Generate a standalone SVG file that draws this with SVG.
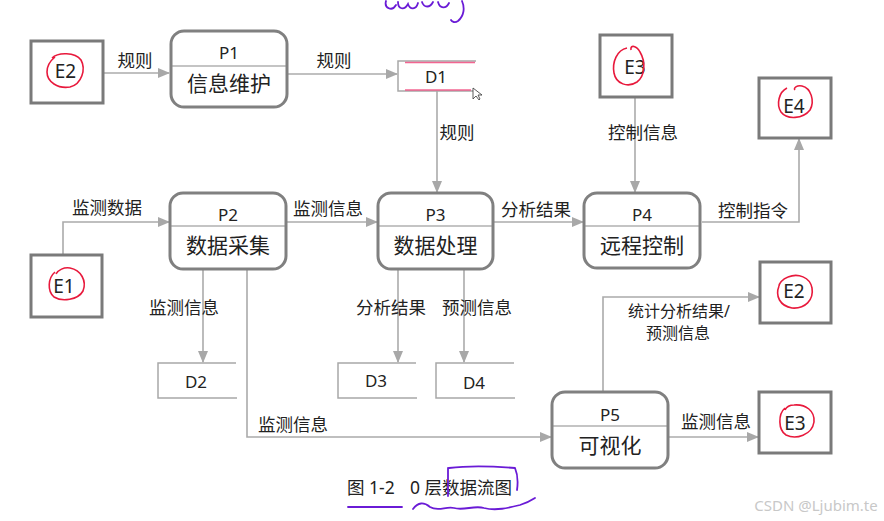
<svg xmlns="http://www.w3.org/2000/svg" width="884" height="521" viewBox="0 0 884 521">
<style>
text{font-family:"Noto Sans","Noto Sans CJK SC",sans-serif;fill:#222;text-anchor:middle;dominant-baseline:central}
.ext{fill:#fff;stroke:#7a7a7a;stroke-width:3}
.proc{fill:#fff;stroke:#808080;stroke-width:3}
.div{stroke:#8a8a8a;stroke-width:1.2}
.ds{fill:none;stroke:#a8a8a8;stroke-width:1.5}
.flow{fill:none;stroke:#ababab;stroke-width:1.6}
.et{font-size:19px}
.pt{font-size:17px}
.pn{font-size:21px}
.dt{font-size:17px}
.lb{font-size:17.5px}
.red{fill:none;stroke:#e8193c;stroke-width:1.6}
.pur{fill:none;stroke:#6a1bd6;stroke-width:1.8;stroke-linecap:round}
</style>
<defs>
<marker id="ah" markerWidth="12" markerHeight="10" refX="11" refY="5" orient="auto" markerUnits="userSpaceOnUse">
<path d="M0,0 L12,5 L0,10 z" fill="#a8a8a8"/>
</marker>
</defs>
<rect width="884" height="521" fill="#fff"/>

<g id="connectors">
<path class="flow" d="M103,73 H169" marker-end="url(#ah)"/>
<path class="flow" d="M288,74 H397" marker-end="url(#ah)"/>
<path class="flow" d="M437,91 V192" marker-end="url(#ah)"/>
<path class="flow" d="M635,97 V192" marker-end="url(#ah)"/>
<path class="flow" d="M63,255 V222 H169" marker-end="url(#ah)"/>
<path class="flow" d="M287,222 H377" marker-end="url(#ah)"/>
<path class="flow" d="M494,222 H583" marker-end="url(#ah)"/>
<path class="flow" d="M702,222 H799 V139" marker-end="url(#ah)"/>
<path class="flow" d="M203,270 V362" marker-end="url(#ah)"/>
<path class="flow" d="M398,270 V362" marker-end="url(#ah)"/>
<path class="flow" d="M464,270 V362" marker-end="url(#ah)"/>
<path class="flow" d="M247,270 V437 H551" marker-end="url(#ah)"/>
<path class="flow" d="M603,391 V297 H759" marker-end="url(#ah)"/>
<path class="flow" d="M669,437 H758" marker-end="url(#ah)"/>
<text class="lb" x="135" y="60">规则</text>
<text class="lb" x="334" y="60">规则</text>
<text class="lb" x="457" y="132">规则</text>
<text class="lb" x="643" y="132">控制信息</text>
<text class="lb" x="107" y="207">监测数据</text>
<text class="lb" x="328" y="208">监测信息</text>
<text class="lb" x="536" y="209">分析结果</text>
<text class="lb" x="753" y="210">控制指令</text>
<text class="lb" x="184" y="307">监测信息</text>
<text class="lb" x="391" y="307">分析结果</text>
<text class="lb" x="477" y="307">预测信息</text>
<text class="lb" x="679" y="311" style="font-size:16px">统计分析结果/</text>
<text class="lb" x="678" y="333" style="font-size:16px">预测信息</text>
<text class="lb" x="716" y="421">监测信息</text>
<text class="lb" x="293" y="424">监测信息</text>
</g>

<g id="E2a"><rect class="ext" x="31" y="41" width="72" height="62"/><text class="et" x="65.5" y="71">E2</text></g>
<g id="E3a"><rect class="ext" x="600" y="35" width="72" height="62"/><text class="et" x="635" y="67">E3</text></g>
<g id="E4"><rect class="ext" x="759" y="78" width="72" height="60"/><text class="et" x="794" y="106">E4</text></g>
<g id="E1"><rect class="ext" x="31" y="255" width="71" height="62"/><text class="et" x="64" y="286">E1</text></g>
<g id="E2b"><rect class="ext" x="760" y="262" width="71" height="61"/><text class="et" x="794" y="291">E2</text></g>
<g id="E3b"><rect class="ext" x="759" y="392" width="72" height="61"/><text class="et" x="795" y="423">E3</text></g>

<g id="P1"><rect class="proc" x="171" y="31" width="116" height="76" rx="13"/><line class="div" x1="172" y1="66" x2="286" y2="66"/><text class="pt" x="229" y="52">P1</text><text class="pn" x="229" y="83">信息维护</text></g>
<g id="P2"><rect class="proc" x="170" y="193" width="116" height="76" rx="13"/><line class="div" x1="171" y1="226" x2="285" y2="226"/><text class="pt" x="228" y="214">P2</text><text class="pn" x="228" y="245">数据采集</text></g>
<g id="P3"><rect class="proc" x="378" y="193" width="115" height="76" rx="13"/><line class="div" x1="379" y1="226" x2="492" y2="226"/><text class="pt" x="435.5" y="214">P3</text><text class="pn" x="435.5" y="245">数据处理</text></g>
<g id="P4"><rect class="proc" x="584" y="193" width="116" height="75" rx="13"/><line class="div" x1="585" y1="226" x2="699" y2="226"/><text class="pt" x="642" y="214">P4</text><text class="pn" x="642" y="245">远程控制</text></g>
<g id="P5"><rect class="proc" x="552" y="392" width="116" height="76" rx="13"/><line class="div" x1="553" y1="426" x2="667" y2="426"/><text class="pt" x="610" y="414">P5</text><text class="pn" x="610" y="445">可视化</text></g>

<g id="D1"><path class="ds" d="M476,61 H398 V91 H474"/><text class="dt" x="436" y="76">D1</text></g>
<g id="D2"><path class="ds" d="M236,363 H158 V398 H237"/><text class="dt" x="196" y="381">D2</text></g>
<g id="D3"><path class="ds" d="M416,363 H338 V398 H417"/><text class="dt" x="376" y="380">D3</text></g>
<g id="D4"><path class="ds" d="M514,363 H436 V398 H515"/><text class="dt" x="474" y="382">D4</text></g>

<text x="347" y="487" style="font-size:17.5px;text-anchor:start">图 1-2</text>
<text x="410" y="487" style="font-size:17.5px;text-anchor:start">0 层数据流图</text>
<text x="816" y="505" style="font-size:15px;fill:#c8c8c8">CSDN @Ljubim.te</text>

<g id="annotations">
<path d="M405,62.5 H475" stroke="#f04a7e" stroke-width="1.6" fill="none" opacity="0.85"/>
<path d="M405,90 H471" stroke="#f04a7e" stroke-width="1.6" fill="none" opacity="0.85"/>
<path d="M473,88 L473,99 L476,96 L479,100 L480,99 L478,95 L482,95 z" fill="#fff" stroke="#333" stroke-width="0.8"/>
<path class="red" d="M52,58 C58,52 75,52 81,60 C86,69 82,84 70,87 C58,89 47,82 47,72 C47,65 50,61 55,57"/>
<path class="red" d="M627,48 C617,50 612,62 614,73 C616,84 628,88 637,82 C645,76 646,62 640,52 C637,46 630,44 631,50"/>
<path class="red" d="M787,88 C779,92 776,104 781,112 C787,120 803,119 810,110 C815,101 811,88 802,86 C797,85 793,88 795,90"/>
<path class="red" d="M55,272 C48,278 47,291 54,297 C62,302 78,300 83,291 C87,281 81,270 70,268 C64,267 58,270 56,274"/>
<path class="red" d="M779,286 C775,296 780,306 792,308 C805,309 814,300 812,288 C810,277 798,273 788,277 C782,279 779,284 779,286"/>
<path class="red" d="M785,408 C778,414 778,430 786,435 C796,440 812,435 814,422 C815,411 806,404 794,405 C789,405 786,408 785,410"/>
<path class="pur" d="M386,1 C384,8 392,12 396,5 M398,2 C398,9 404,11 408,4 C410,10 416,10 418,3 M422,2 C424,8 430,8 433,2 M438,2 C440,9 446,9 449,3 M462,1 C465,8 464,16 458,21 C455,23 452,22 451,20"/>
<path class="pur" d="M348,507 H402"/>
<path class="pur" d="M413,509 C418,502 424,502 430,507 C438,512 446,506 454,508 C464,511 474,505 484,508 C496,511 508,508 520,505 C526,503 532,500 535,498"/>
<path class="pur" d="M448,468 V496 M449,468 C465,466 490,466 515,468 C518,475 518,483 517,490"/>
</g>
</svg>
